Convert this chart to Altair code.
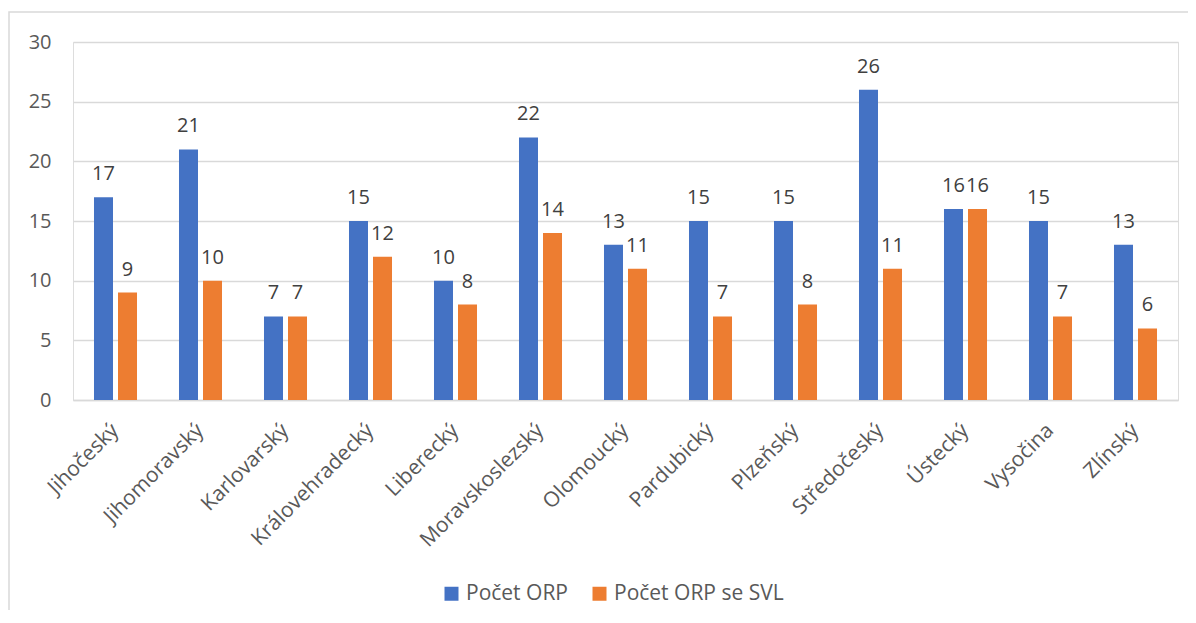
import altair as alt
import pandas as pd

regions = ["Jihočeský", "Jihomoravský", "Karlovarský", "Královehradecký", "Liberecký",
           "Moravskoslezský", "Olomoucký", "Pardubický", "Plzeňský", "Středočeský",
           "Ústecký", "Vysočina", "Zlínský"]
orp = [17, 21, 7, 15, 10, 22, 13, 15, 15, 26, 16, 15, 13]
orp_svl = [9, 10, 7, 12, 8, 14, 11, 7, 8, 11, 16, 7, 6]
series = ["Počet ORP", "Počet ORP se SVL"]
colors = ["#4472C4", "#ED7D31"]
y_ticks = [0, 5, 10, 15, 20, 25, 30]

rows = []
for r, a, b in zip(regions, orp, orp_svl):
    rows.append({"kraj": r, "serie": series[0], "hodnota": a})
    rows.append({"kraj": r, "serie": series[1], "hodnota": b})
df = pd.DataFrame(rows)

FONT = "Open Sans"
W, H = 1105, 358

x_enc = alt.X("kraj:N", sort=regions, title=None,
              scale=alt.Scale(paddingInner=0.494, paddingOuter=0.247),
              axis=alt.Axis(labelAngle=-45, labelAlign="right", labelBaseline="middle",
                            labelPadding=27, ticks=False, domainColor="#D9D9D9",
                            domainWidth=1.5, labelColor="#595959", labelFontSize=21,
                            labelFont=FONT))
xoff = alt.XOffset("serie:N", sort=series, scale=alt.Scale(paddingInner=0.2083, paddingOuter=0))

base = alt.Chart(df)

bars = base.mark_bar().encode(
    x=x_enc,
    xOffset=xoff,
    y=alt.Y("hodnota:Q", title=None,
            scale=alt.Scale(domain=[0, 30]),
            axis=alt.Axis(values=y_ticks, grid=True, gridColor="#D9D9D9", gridWidth=1.5,
                          domain=False, ticks=False, labelPadding=22,
                          labelColor="#595959", labelFontSize=20, labelFont=FONT)),
    color=alt.Color("serie:N", sort=series,
                    scale=alt.Scale(domain=series, range=colors),
                    legend=alt.Legend(title=None, orient="none", direction="horizontal",
                                      legendX=368, legendY=541, symbolType="square",
                                      symbolSize=196, symbolStrokeWidth=0,
                                      labelFontSize=21, labelColor="#595959",
                                      labelFont=FONT, labelOffset=4, labelLimit=400,
                                      columnPadding=21, padding=0)),
)

labels = base.mark_text(baseline="alphabetic", dy=-17, fontSize=20, color="#404040",
                        font=FONT).encode(
    x=alt.X("kraj:N", sort=regions),
    xOffset=xoff,
    y=alt.Y("hodnota:Q"),
    text=alt.Text("hodnota:Q"),
)

border = alt.Chart(pd.DataFrame({"a": [0]})).mark_rect(
    filled=False, stroke="#D9D9D9", strokeWidth=1.5
).encode(
    x=alt.value(-64), x2=alt.value(W + 200),
    y=alt.value(-30), y2=alt.value(H + 400),
)

chart = alt.layer(border, bars, labels).properties(
    width=W, height=H,
    autosize=alt.AutoSizeParams(type="none"),
    padding={"left": 65, "top": 34, "right": 10, "bottom": 210},
).configure_view(stroke=None).configure(background="white")

chart.save("out.html", embed_options={"renderer": "svg", "actions": False})
